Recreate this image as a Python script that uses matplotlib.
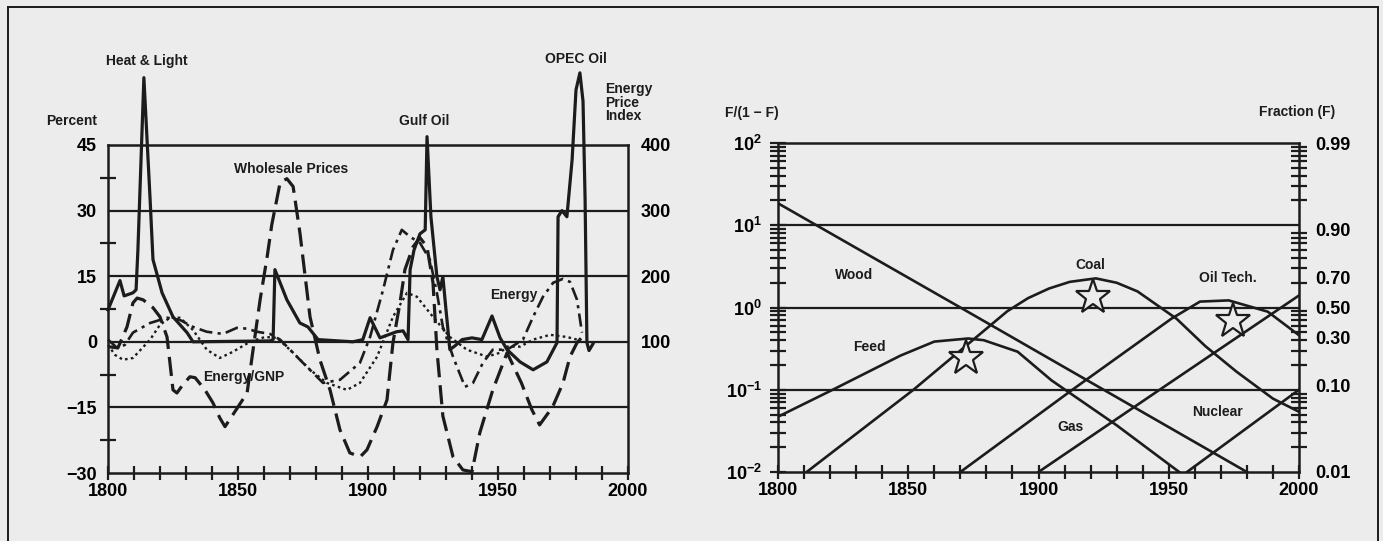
import matplotlib
matplotlib.use('Agg')
import matplotlib.pyplot as plt
from matplotlib.lines import Line2D
from matplotlib.ticker import LogLocator, NullFormatter

plt.rcParams['font.family'] = ['Liberation Sans Narrow', 'Liberation Sans', 'DejaVu Sans']
plt.rcParams['font.weight'] = 'bold'
plt.rcParams['mathtext.fontset'] = 'custom'
plt.rcParams['mathtext.rm'] = 'Liberation Sans:bold'
plt.rcParams['mathtext.bf'] = 'Liberation Sans:bold'
plt.rcParams['mathtext.default'] = 'rm'

# ---- left chart: percent change (long waves) ----
price_years = [1800, 1804.6, 1806.2, 1809.6, 1810.8, 1811.5, 1813.8, 1816.2, 1817.3, 1820.8, 1825,
               1830.4, 1832.7, 1862.3, 1863.5, 1864.2, 1866.2, 1868.8, 1873.8, 1876.9, 1880.8,
               1894.2, 1898, 1900.8, 1904.6, 1911, 1913.5, 1915.4, 1916.2, 1917.7, 1920, 1922,
               1922.7, 1924.2, 1926.5, 1927.7, 1928.8, 1930, 1931.5, 1933.5, 1936.2, 1940, 1943.8,
               1947.7, 1950.8, 1953.5, 1958.5, 1963.5, 1968.8, 1972.7, 1973.1, 1974.6, 1976.5,
               1978.5, 1980, 1981.5, 1982.7, 1983.5, 1984.2, 1985, 1986.5]
price_vals = [7.3, 14.0, 10.5, 11.2, 11.9, 21, 60.4, 32.5, 18.8, 11.2, 5.7,
              2.1, 0, 0.2, 0.5, 16.5, 13.5, 9.6, 4.3, 3.4, 0.5,
              0, 0.5, 5.5, 0.9, 2.3, 2.5, 0.5, 16.5, 21, 24.7, 25.6,
              46.9, 28.6, 14.9, 11.9, 14.9, 7.3, -1.8, -0.9, 0.5, 0.9, 0.5,
              5.9, 0.9, -1.8, -4.6, -6.4, -4.6, -0.2, 28.6, 30, 28.6,
              41.6, 57.6, 61.5, 55, 32.5, -0.2, -2, -0.5]

wholesale_years = [1800, 1803.8, 1807.3, 1809.6, 1811.2, 1813.5, 1817.3, 1820, 1822.7, 1825, 1826.5,
                   1828.8, 1831.5, 1833.5, 1837.3, 1840.4, 1843, 1845, 1848, 1853.5, 1855.8, 1858.5,
                   1861.2, 1863, 1866.2, 1868.8, 1871.2, 1873.8, 1877.7, 1881.5, 1885.4, 1889.2, 1893,
                   1897, 1899.6, 1903.5, 1907.3, 1909.6, 1912.3, 1914.2, 1917.3, 1920, 1922.7, 1925,
                   1926.5, 1928.8, 1932.7, 1936.5, 1940, 1943, 1948, 1953.5, 1959, 1963, 1966,
                   1971, 1975, 1977.7, 1980.4, 1983]
wholesale_vals = [-1.1, -1.4, 3.4, 8.9, 10, 9.6, 7.8, 5.7, 1.1, -11, -11.7,
                  -9.8, -8, -8.2, -11, -14, -17.4, -19.4, -16.7, -11.7, -1.8, 9.6,
                  19.4, 26.8, 36.4, 37.3, 35.5, 25, 5.7, -4.1, -11, -20.1, -25.4,
                  -26.3, -24.7, -19.4, -13.3, -0.2, 8.9, 16.5, 21.7, 23.8, 21.7, 13.5,
                  -1.8, -17, -26.3, -29.3, -29.7, -20.8, -11, -2.5, -9.4, -15.5, -19,
                  -14.9, -9.4, -3.4, -0.2, 1.5]

energy_years = [1800, 1803.5, 1806.5, 1809.6, 1816.2, 1822.7, 1827.7, 1832.7, 1838, 1844.2, 1849.6,
                1853.5, 1857.3, 1862.3, 1866.2, 1873.8, 1882.7, 1889.2, 1896.9, 1900.8, 1905.8,
                1909.6, 1913, 1916.2, 1920, 1923.8, 1926.5, 1928.8, 1932.7, 1937.3, 1940.4, 1944.2,
                1948, 1953.5, 1959.6, 1963.5, 1967.3, 1971.2, 1975, 1977.7, 1980.4, 1982.3]
energy_vals = [0.5, -1.4, -0.7, 2.1, 4.3, 5.5, 5, 3.4, 2.3, 1.8, 3.2,
               3.0, 2.3, 1.8, 0.5, -4.1, -9.4, -8.7, -4.8, 1.1, 11.9,
               21, 25.6, 24, 22.6, 18.8, 11.2, 3.4, -3.4, -10.3, -9.4, -4.8,
               -1.8, -1.8, 0.5, 5.7, 10.3, 13.5, 14.4, 13.7, 9.6, 2.1]

gnp_years = [1800, 1802.7, 1805.8, 1809.6, 1816.2, 1820, 1823.8, 1827.7, 1832.7, 1838, 1843,
             1848, 1854.6, 1860.4, 1865, 1871.2, 1877.7, 1884.2, 1891.9, 1896.9, 1903.5,
             1909.6, 1915, 1918.8, 1925, 1931.5, 1938, 1945.8, 1950.8, 1953.5, 1958.5,
             1963.5, 1970, 1976.5, 1980.4]
gnp_vals = [-0.7, -3, -4.1, -3.7, 0.5, 3.9, 5.5, 5.5, 2.7, -1.8, -3.7,
            -2.3, 0, 1.1, 0.9, -2.5, -6.4, -9.4, -11, -9.4, -3.4,
            5.7, 11.2, 10.3, 5.7, 1.1, -1.8, -3.4, -2.5, -1.1, -1.1,
            0.5, 1.6, 1.1, 0.5]

pct_ticks = [-30, -15, 0, 15, 30, 45]
index_ticks = [100, 200, 300, 400]
year_ticks = [1800, 1850, 1900, 1950, 2000]

# ---- right chart: logistic substitution, F/(1-F) ----
wood_years = [1800, 1870, 1980]
wood_vals = [18.5, 1.0, 0.01]
feed_years = [1800, 1821, 1847, 1860, 1873, 1879, 1892, 1905, 1930, 1954]
feed_vals = [0.047, 0.10, 0.26, 0.385, 0.42, 0.40, 0.29, 0.13, 0.037, 0.01]
coal_years = [1811, 1852, 1888, 1896, 1904, 1912, 1922, 1930, 1938, 1953, 1964, 1976, 1990, 2000]
coal_vals = [0.01, 0.1, 0.9, 1.3, 1.7, 2.05, 2.26, 2.0, 1.57, 0.73, 0.34, 0.166, 0.078, 0.054]
oil_years = [1870, 1913, 1951, 1962, 1973, 1988, 2000]
oil_vals = [0.01, 0.1, 0.73, 1.18, 1.22, 0.89, 0.46]
gas_years = [1900, 1946.5, 2000]
gas_vals = [0.01, 0.1, 1.4]
nuclear_years = [1957, 2000]
nuclear_vals = [0.01, 0.1]
star_years = [1872, 1921, 1974.5]
star_vals = [0.24, 1.36, 0.69]
frac_ticks = [0.99, 0.90, 0.70, 0.50, 0.30, 0.10, 0.01]

ink = '#1c1c1c'
bg = '#ececec'
W, H = 1383, 541

fig = plt.figure(figsize=(W / 100, H / 100), dpi=100, facecolor=bg)

# left chart
ax1 = fig.add_axes([108 / W, 1 - 473 / H, 520 / W, 328 / H])
ax1.set_facecolor('none')
ax1.set_xlim(1800, 2000)
ax1.set_ylim(-30, 45)
for s in ax1.spines.values():
    s.set_linewidth(1.8)
    s.set_color(ink)
for y in [30, 15, 0, -15]:
    ax1.axhline(y, color=ink, lw=1.6, zorder=1)

ax1.plot(price_years, price_vals, '-', color=ink, lw=2.3, clip_on=False, zorder=3)
ax1.plot(wholesale_years, wholesale_vals, color=ink, lw=2.3, dashes=(6, 2.5), clip_on=False, zorder=3)
ax1.plot(energy_years, energy_vals, color=ink, lw=1.9, dashes=(5, 2, 1.2, 2), clip_on=False, zorder=3)
ax1.plot(gnp_years, gnp_vals, color=ink, lw=1.7, dashes=(1.1, 1.4), clip_on=False, zorder=3)

ax1.set_xticks(year_ticks)
ax1.set_xticks(range(1800, 2001, 10), minor=True)
ax1.set_xticklabels([str(y) for y in year_ticks])
ax1.set_yticks(pct_ticks)
ax1.set_yticklabels([str(v).replace('-', '\u2212') for v in pct_ticks])
ax1.set_yticks([-22.5, -7.5, 7.5, 22.5, 37.5], minor=True)
ax1.tick_params(axis='x', which='both', direction='inout', length=10, width=1.6, color=ink,
                labelsize=13, pad=2)
ax1.tick_params(axis='y', which='major', length=0, pad=8, labelsize=13)
ax1.tick_params(axis='y', which='minor', direction='inout', length=12, width=1.6, color=ink)

ax1r = ax1.twinx()
ax1r.set_frame_on(False)
ax1r.set_ylim(-100, 400)
ax1r.set_yticks(index_ticks)
ax1r.set_yticklabels([str(v) for v in index_ticks])
ax1r.tick_params(axis='y', length=0, pad=9, labelsize=13)

lab = dict(fontsize=10, fontweight='bold', color=ink)
ax1.text(1815, 64.3, 'Heat & Light', ha='center', va='center', **lab)
ax1.text(1870.4, 39.6, 'Wholesale Prices', ha='center', va='center', **lab)
ax1.text(1921.5, 50.5, 'Gulf Oil', ha='center', va='center', **lab)
ax1.text(1980, 64.7, 'OPEC Oil', ha='center', va='center', **lab)
ax1.text(1852.3, -8.0, 'Energy/GNP', ha='center', va='center', **lab)
ax1.text(1956.2, 10.7, 'Energy', ha='center', va='center', **lab)
ax1.text(1795.8, 50.5, 'Percent', ha='right', va='center', **lab)
ax1.text(1991.2, 54.7, 'Energy\nPrice\nIndex', ha='left', va='center', linespacing=0.95, **lab)

# right chart
ax2 = fig.add_axes([778 / W, 1 - 472 / H, 521 / W, 329 / H])
ax2.set_facecolor('none')
ax2.set_yscale('log')
ax2.set_xlim(1800, 2000)
ax2.set_ylim(1e-2, 1e2)
for s in ax2.spines.values():
    s.set_linewidth(1.8)
    s.set_color(ink)
for y in [10, 1, 0.1]:
    ax2.axhline(y, color=ink, lw=1.6, zorder=1)

for yrs, vals in [(wood_years, wood_vals), (feed_years, feed_vals), (coal_years, coal_vals),
                  (oil_years, oil_vals), (gas_years, gas_vals), (nuclear_years, nuclear_vals)]:
    ax2.plot(yrs, vals, '-', color=ink, lw=1.9, zorder=3)
ax2.plot(star_years, star_vals, ls='none', marker='*', ms=26, mfc=bg, mec=ink, mew=1.6, zorder=4)

ax2.set_xticks(year_ticks)
ax2.set_xticks(range(1800, 2001, 10), minor=True)
ax2.set_xticklabels([str(y) for y in year_ticks])
ax2.set_yticks([1e-2, 1e-1, 1, 10, 100])
ax2.set_yticklabels([r'$10^{-2}$', r'$10^{-1}$', r'$10^{0}$', r'$10^{1}$', r'$10^{2}$'])
ax2.yaxis.set_minor_locator(LogLocator(base=10, subs=range(2, 10)))
ax2.yaxis.set_minor_formatter(NullFormatter())
ax2.tick_params(axis='x', which='both', direction='inout', length=10, width=1.6, color=ink,
                labelsize=13, pad=2)
ax2.tick_params(axis='y', which='both', direction='inout', length=11, width=1.6, color=ink,
                labelsize=13, pad=6)

ax2r = ax2.twinx()
ax2r.set_frame_on(False)
ax2r.set_yscale('log')
ax2r.set_ylim(1e-2, 1e2)
ax2r.set_yticks([f / (1 - f) for f in frac_ticks])
ax2r.set_yticklabels(['%.2f' % f for f in frac_ticks])
ax2r.yaxis.set_minor_locator(LogLocator(base=10, subs=range(2, 10)))
ax2r.yaxis.set_minor_formatter(NullFormatter())
ax2r.tick_params(axis='y', which='major', length=0, pad=12, labelsize=13)
ax2r.tick_params(axis='y', which='minor', direction='inout', length=11, width=1.6, color=ink)

ax2.text(1829.2, 2.45, 'Wood', ha='center', va='center', **lab)
ax2.text(1835, 0.334, 'Feed', ha='center', va='center', **lab)
ax2.text(1920, 3.25, 'Coal', ha='center', va='center', **lab)
ax2.text(1972.7, 2.26, 'Oil Tech.', ha='center', va='center', **lab)
ax2.text(1912.3, 0.0353, 'Gas', ha='center', va='center', **lab)
ax2.text(1968.8, 0.054, 'Nuclear', ha='center', va='center', **lab)
ax2.text(1790, 232, 'F/(1 \u2212 F)', ha='center', va='center', **lab)
ax2.text(1999.2, 239, 'Fraction (F)', ha='center', va='center', **lab)

# page frame
fig.add_artist(Line2D([8 / W, 1378 / W], [1 - 7 / H, 1 - 7 / H], transform=fig.transFigure, color=ink, lw=1.4))
fig.add_artist(Line2D([8 / W, 8 / W], [0, 1 - 7 / H], transform=fig.transFigure, color=ink, lw=1.4))
fig.add_artist(Line2D([1378 / W, 1378 / W], [0, 1 - 7 / H], transform=fig.transFigure, color=ink, lw=1.4))

fig.savefig('out.png', dpi=100, facecolor=bg)
